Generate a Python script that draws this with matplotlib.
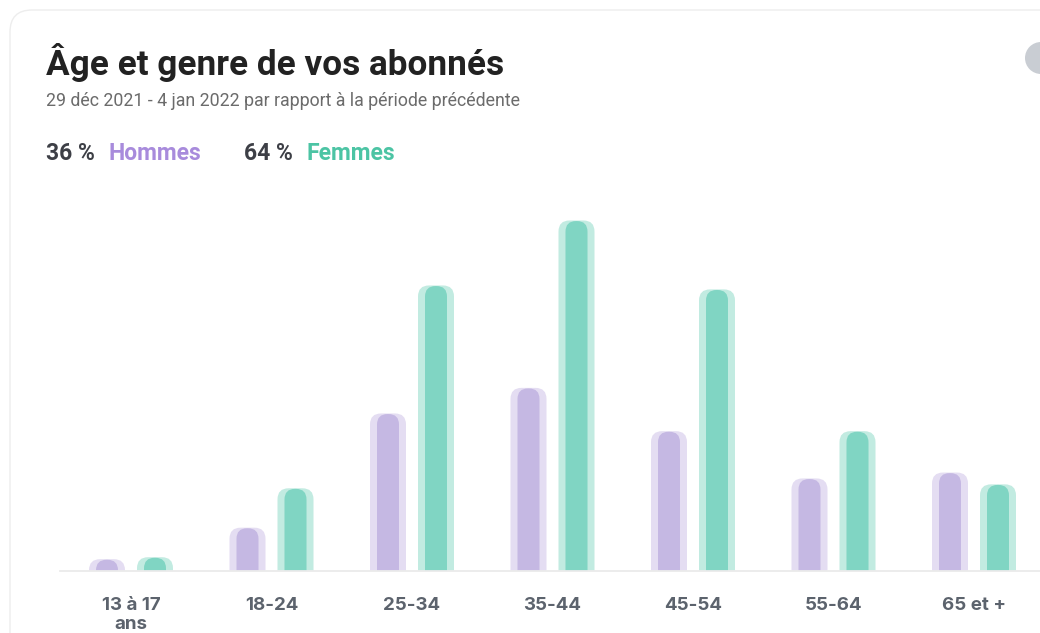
import matplotlib
matplotlib.use("Agg")
import matplotlib.pyplot as plt
from matplotlib.patches import FancyBboxPatch, Circle
from matplotlib.transforms import IdentityTransform

# === Data (percent of followers) ===
age_groups = ["13 à 17\nans", "18-24", "25-34", "35-44", "45-54", "55-64", "65 et +"]
hommes = [0.6, 2.2, 8.0, 9.3, 7.1, 4.7, 5.0]
femmes = [0.7, 4.2, 14.5, 17.8, 14.3, 7.1, 4.4]
share_labels = ["36 %", "Hommes", "64 %", "Femmes"]

# === Style ===
W, H = 1040, 633
MEN_IN, MEN_OUT = "#c5b8e3", "#e4ddf2"
WOM_IN, WOM_OUT = "#80d5c3", "#c2ebe1"
YMAX = 18.84

fig = plt.figure(figsize=(W / 100, H / 100), dpi=100)
fig.patch.set_facecolor("white")

def px(x, y):
    return x / W, 1 - y / H

# card border + round button (pixel coords)
card = FancyBboxPatch((10, -40), 1100, 663, boxstyle="round,pad=0,rounding_size=22",
                      transform=IdentityTransform(), facecolor="white",
                      edgecolor="#ededed", linewidth=1.0, zorder=0)
fig.add_artist(card)
fig.add_artist(Circle((1041, H - 58), 16, transform=IdentityTransform(),
                      facecolor="#c9cdd3", edgecolor="none"))

# === Header ===
fig.text(*px(46, 75), "Âge et genre de vos abonnés", family="Roboto", weight="bold",
         fontsize=25.3, color="#222222", va="baseline")
fig.text(*px(46, 106), "29 déc 2021 - 4 jan 2022 par rapport à la période précédente",
         family="Roboto", fontsize=12.8, color="#6b6b6b", va="baseline")
for xpos, txt, col in zip([46, 108, 244, 307], share_labels,
                          ["#3d3f46", "#a88bdc", "#3d3f46", "#4cc4a4"]):
    fig.text(*px(xpos, 160), txt, family="Roboto", weight="bold", fontsize=16.5,
             color=col, va="baseline")

# === Bars ===
left, right, top, bottom = 60, 1040, 200, 571
ax = fig.add_axes([left / W, (H - bottom) / H, (right - left) / W, (bottom - top) / H])
x0 = (left - 131) / 140.5
x1 = (right - 131) / 140.5
ax.set_xlim(x0, x1)
ax.set_ylim(0, YMAX)

px_x = (right - left) / (x1 - x0)
px_y = (bottom - top) / YMAX
aspect = px_x / px_y

def rounded_bar(xc, h, width_px, radius_px, color, z):
    w = width_px / px_x
    r = radius_px / px_x
    extra = 3 * radius_px / px_y
    p = FancyBboxPatch((xc - w / 2, -extra), w, h + extra,
                       boxstyle=f"round,pad=0,rounding_size={r}",
                       mutation_aspect=aspect, facecolor=color, edgecolor="none",
                       zorder=z)
    ax.add_patch(p)

off = 24 / px_x
for i, (m, f) in enumerate(zip(hommes, femmes)):
    rounded_bar(i - off, m, 36, 11, MEN_OUT, 2)
    rounded_bar(i - off, m - 0.03, 22, 10.5, MEN_IN, 3)
    rounded_bar(i + off, f, 36, 11, WOM_OUT, 2)
    rounded_bar(i + off, f - 0.03, 22, 10.5, WOM_IN, 3)

for s in ["top", "left", "right"]:
    ax.spines[s].set_visible(False)
ax.spines["bottom"].set_color("#ebebeb")
ax.spines["bottom"].set_linewidth(1.3)
ax.spines["bottom"].set_zorder(5)
ax.set_yticks([])
ax.set_xticks(range(len(age_groups)))
ax.set_xticklabels(age_groups, family="Inter", weight="bold", fontsize=13.5,
                   color="#5c636d", linespacing=1.12)
ax.tick_params(axis="x", length=0, pad=19)
ax.patch.set_alpha(0)

fig.savefig("out.png", dpi=100)
